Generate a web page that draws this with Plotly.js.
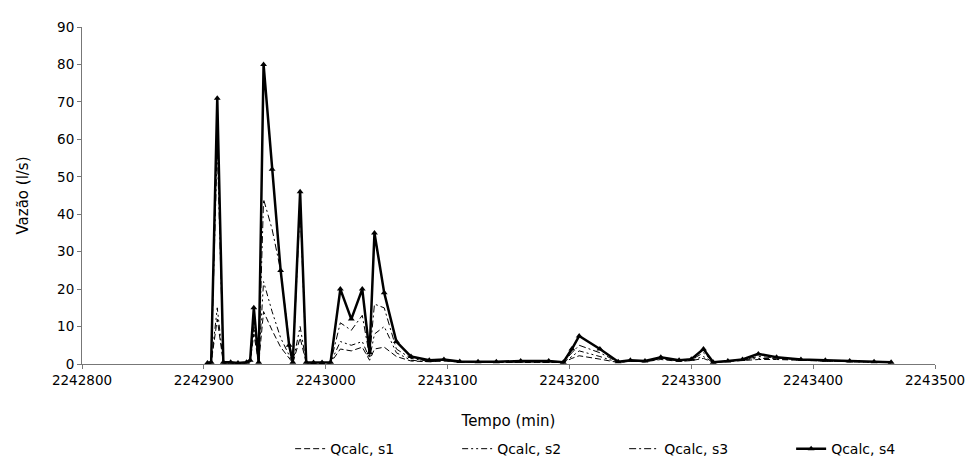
<!DOCTYPE html>
<html>
<head>
<meta charset="utf-8">
<script src="https://cdn.plot.ly/plotly-3.0.1.min.js"></script>
<style>body{margin:0;background:#fff}#chart{width:973px;height:466px}</style>
</head>
<body>
<div id="chart"></div>
<script>
const tempo = [2242903,2242906,2242911,2242916,2242922,2242928,2242935,2242938,2242941,2242945,2242949,2242956,2242963,2242970,2242973,2242979,2242984,2242990,2242997,2243004,2243012,2243021,2243030,2243036,2243040,2243048,2243058,2243070,2243085,2243097,2243110,2243125,2243140,2243160,2243183,2243195,2243202,2243208,2243225,2243240,2243250,2243262,2243275,2243290,2243300,2243310,2243318,2243330,2243342,2243355,2243370,2243390,2243410,2243430,2243450,2243464];
const s1 = [0.2,0.3,12,0.3,0.3,0.2,0.3,0.5,8,0.3,14,9,4.5,1.5,0.3,7,0.3,0.3,0.3,0.3,4,3.5,4.5,1,4,4.5,2,0.8,0.6,0.8,0.5,0.5,0.5,0.6,0.6,0.4,1.5,2.2,1.3,0.4,0.7,0.6,1.2,0.7,0.9,1.5,0.4,0.6,0.9,1.2,1.2,0.9,0.8,0.6,0.5,0.4];
const s2 = [0.2,0.3,15,0.3,0.3,0.2,0.3,0.6,10,0.3,22,14,7,2,0.3,10,0.3,0.3,0.3,0.3,6,5,6,1.5,8,10,3,1,0.6,0.9,0.5,0.5,0.5,0.6,0.6,0.4,2,3.5,2,0.4,0.8,0.6,1.4,0.8,1,2,0.4,0.7,1,1.5,1.4,1,0.8,0.7,0.5,0.4];
const s3 = [0.3,0.4,58,0.4,0.4,0.3,0.4,0.8,13,0.4,44,36,25,6,0.4,42,0.4,0.3,0.3,0.4,11,9,13,2,16,15,4,1.5,0.7,1,0.6,0.5,0.5,0.7,0.7,0.5,3,5,3,0.5,0.9,0.7,1.5,0.9,1.1,3,0.5,0.7,1.1,2,1.6,1.1,0.9,0.7,0.6,0.5];
const s4 = [0.3,0.5,71,0.5,0.5,0.3,0.5,1,15,0.5,80,52,25,5,0.5,46,0.5,0.4,0.4,0.5,20,12,20,3,35,19,6,2,1,1.2,0.7,0.6,0.6,0.8,0.8,0.5,4,7.5,4,0.6,1,0.8,1.8,1,1.3,4,0.5,0.8,1.2,2.7,1.8,1.2,1,0.8,0.6,0.5];
const seriesNames = ['Qcalc, s1','Qcalc, s2','Qcalc, s3','Qcalc, s4'];
const xTicks = [2242800,2242900,2243000,2243100,2243200,2243300,2243400,2243500];
const yTicks = [0,10,20,30,40,50,60,70,80,90];

const font = '"DejaVu Sans", Verdana, Tahoma, sans-serif';
const traces = [
  {x: tempo, y: s1, name: seriesNames[0], mode: 'lines', line: {color: '#000', width: 1, dash: '6px,3px'}},
  {x: tempo, y: s2, name: seriesNames[1], mode: 'lines', line: {color: '#000', width: 1, dash: '6px,3px,2px,3px,2px,3px'}},
  {x: tempo, y: s3, name: seriesNames[2], mode: 'lines', line: {color: '#000', width: 1, dash: '7px,3px,2px,3px'}},
  {x: tempo, y: s4, name: seriesNames[3], mode: 'lines+markers', line: {color: '#000', width: 2.5},
   marker: {symbol: 'triangle-up', size: 6, color: '#000'}}
];
const layout = {
  width: 973, height: 466,
  margin: {l: 82, r: 38, t: 27, b: 102, autoexpand: false},
  paper_bgcolor: '#fff', plot_bgcolor: '#fff',
  font: {family: font, color: '#000', size: 13},
  showlegend: true,
  legend: {orientation: 'h', x: 0.244, xanchor: 'left', y: -0.205, yanchor: 'top',
           font: {size: 14}, entrywidthmode: 'pixels', entrywidth: 122, traceorder: 'normal',
           bgcolor: 'rgba(0,0,0,0)'},
  xaxis: {range: [2242800, 2243500], tickvals: xTicks, ticktext: xTicks.map(String),
          showgrid: false, zeroline: false, showline: true, linecolor: '#777', linewidth: 1,
          ticks: 'outside', ticklen: 4, tickcolor: '#777', tickfont: {size: 13.5},
          title: {text: 'Tempo (min)', font: {size: 15}, standoff: 28}},
  yaxis: {range: [0, 90], tickvals: yTicks, showgrid: false, zeroline: false, showline: true,
          linecolor: '#777', linewidth: 1, ticks: 'outside', ticklen: 4, tickcolor: '#777',
          tickfont: {size: 13.5},
          title: {text: 'Vazão (l/s)', font: {size: 15}, standoff: 24}}
};
Plotly.newPlot('chart', traces, layout, {displayModeBar: false, staticPlot: true});
</script>
</body>
</html>
